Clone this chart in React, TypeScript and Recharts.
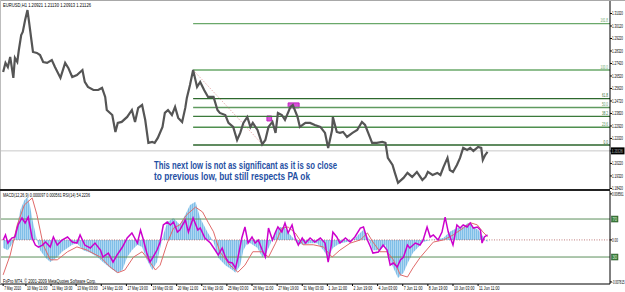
import React from 'react'
import { ComposedChart, Line, Area, XAxis, YAxis, ReferenceLine, ReferenceArea } from 'recharts'

// EURUSD H1, 7 May - 11 Jun 2010. x = bar number counted from the first bar on screen
const pricePoints: [number, number][] = [
  [0, 1.2681], [3, 1.2746], [6, 1.2717], [9, 1.2789], [13, 1.2638], [15, 1.2782], [18, 1.2753], [20, 1.2839],
  [23, 1.2947], [25, 1.2969], [28, 1.3055], [31, 1.3127], [33, 1.3041], [36, 1.2911], [38, 1.2825], [43, 1.2818],
  [47, 1.2803], [51, 1.2753], [56, 1.2746], [62, 1.2767], [66, 1.2717], [73, 1.2638], [79, 1.2746], [83, 1.271],
  [88, 1.2645], [94, 1.2659], [101, 1.2695], [104, 1.2609], [108, 1.2573], [115, 1.2551], [121, 1.2551], [126, 1.2566],
  [130, 1.2501], [132, 1.2407], [139, 1.2371], [143, 1.2249], [146, 1.2314], [151, 1.2321], [158, 1.2357], [164, 1.2407],
  [168, 1.2321], [172, 1.2422], [177, 1.2443], [181, 1.2335], [185, 1.217], [190, 1.2177], [193, 1.217], [197, 1.2206],
  [203, 1.2285], [206, 1.2386], [210, 1.2407], [215, 1.2371], [219, 1.2429], [223, 1.235], [228, 1.2321], [232, 1.2422],
  [234, 1.2494], [238, 1.2587], [242, 1.2695], [247, 1.2573], [251, 1.2609], [256, 1.2551], [261, 1.2501], [268, 1.2501],
  [273, 1.2407], [276, 1.2386], [283, 1.2371], [287, 1.2314], [293, 1.2285], [298, 1.2191], [302, 1.2242], [306, 1.2314],
  [311, 1.2357], [315, 1.2285], [318, 1.2314], [324, 1.2263], [330, 1.216], [334, 1.2191], [338, 1.2285], [343, 1.2321],
  [347, 1.2242], [350, 1.2386], [355, 1.2371], [359, 1.2335], [366, 1.2429], [369, 1.2443], [375, 1.2357], [378, 1.2285],
  [385, 1.2314], [391, 1.2314], [397, 1.2299], [404, 1.2285], [410, 1.2242], [414, 1.2134], [419, 1.2263], [420, 1.2357],
  [425, 1.2249], [429, 1.2242], [433, 1.2249], [438, 1.2213], [445, 1.2242], [451, 1.2263], [457, 1.2321], [461, 1.2299],
  [465, 1.2242], [470, 1.217], [476, 1.217], [483, 1.2177], [487, 1.217], [490, 1.2062], [496, 1.2011], [499, 1.1954],
  [503, 1.1882], [510, 1.1918], [515, 1.1954], [521, 1.1925], [527, 1.1961], [534, 1.1903], [538, 1.1925], [541, 1.1961],
  [547, 1.1939], [553, 1.1954], [557, 1.1939], [561, 1.1997], [566, 1.2062], [569, 1.1975], [573, 1.1961], [578, 1.2011],
  [582, 1.2062], [586, 1.2134], [591, 1.2119], [595, 1.2134], [599, 1.2112], [605, 1.2141], [609, 1.2134], [611, 1.2047],
  [614, 1.2083], [617, 1.2105],
]

const macdPoints: [number, number][] = [
  [0, -0.0015], [6, -0.0019], [13, -0.0004], [18, 0.0028], [22, 0.0056], [27, 0.0074], [31, 0.008], [34, 0.0065],
  [38, 0.0033], [43, 0], [47, -0.0019], [54, -0.0033], [60, -0.0041], [69, -0.0032], [75, -0.0022], [82, -0.0015],
  [88, -0.0009], [94, -0.0006], [102, -0.0019], [111, -0.0024], [120, -0.0032], [127, -0.0041], [136, -0.0052], [145, -0.0061],
  [152, -0.0056], [158, -0.0032], [164, -0.0019], [171, -0.0009], [177, -0.0013], [183, -0.0037], [190, -0.0056], [196, -0.0041],
  [200, -0.0015], [204, 0.0009], [209, 0.0033], [217, 0.0041], [225, 0.0028], [232, 0.0047], [238, 0.0065], [245, 0.0071],
  [251, 0.0041], [260, 0.0015], [268, -0.0004], [274, -0.0033], [283, -0.0047], [292, -0.0056], [296, -0.0061], [302, -0.0047],
  [306, -0.0019], [311, -0.0006], [315, -0.0006], [324, -0.0015], [330, -0.0032], [334, -0.0028], [340, -0.0009], [347, 0.0015],
  [353, 0.0024], [359, 0.0022], [366, 0.0009], [375, -0.0006], [382, -0.0009], [391, -0.0006], [400, -0.0006], [408, -0.0019],
  [414, -0.0033], [420, -0.0015], [429, -0.0006], [438, -0.0004], [446, 0], [452, 0.0009], [459, 0.0019], [465, 0.0004],
  [471, -0.0019], [480, -0.0019], [487, -0.0009], [490, -0.0028], [497, -0.0052], [503, -0.0071], [510, -0.0061], [516, -0.0041],
  [522, -0.0024], [529, -0.0013], [535, -0.0004], [544, 0], [553, 0.0001], [561, 0.0004], [569, 0.0015], [578, 0.0022],
  [586, 0.0024], [592, 0.0032], [599, 0.0024], [605, 0.0019], [610, 0.0009], [614, 0], [617, -0.0004],
]

const signalPoints: [number, number][] = [
  [0, -0.0065], [9, -0.0028], [18, 0.0028], [27, 0.0065], [37, 0.0078], [43, 0.0047], [51, -0.0009], [60, -0.0037],
  [69, -0.0037], [82, -0.0022], [94, -0.0013], [107, -0.0019], [124, -0.0032], [136, -0.005], [146, -0.0061], [155, -0.0056],
  [166, -0.0032], [177, -0.0022], [185, -0.0037], [194, -0.0056], [200, -0.0047], [209, -0.0006], [217, 0.0022], [225, 0.0028],
  [234, 0.0047], [245, 0.0061], [254, 0.0052], [261, 0.0033], [268, 0.0015], [276, -0.0022], [289, -0.0047], [299, -0.006],
  [308, -0.0047], [318, -0.0022], [330, -0.0022], [338, -0.0032], [347, -0.0006], [355, 0.0022], [363, 0.0024], [372, 0.0013],
  [382, -0.0009], [395, -0.0009], [408, -0.0013], [419, -0.0032], [429, -0.0019], [442, -0.0006], [455, 0], [464, 0.0013],
  [471, -0.0004], [480, -0.0022], [489, -0.0022], [497, -0.0037], [506, -0.0065], [515, -0.0069], [522, -0.0052], [531, -0.0033],
  [548, -0.0004], [561, 0], [573, 0.0009], [586, 0.0022], [595, 0.0032], [604, 0.0028], [611, 0.0015], [617, 0.0006],
]

const rsiPoints: [number, number][] = [
  [0, 47.9], [3, 53.2], [6, 44.7], [11, 50], [15, 51.1], [19, 63.7], [24, 71.1], [28, 65.8], [32, 72.1], [37, 50],
  [41, 42.6], [45, 40.5], [50, 42.6], [54, 45.8], [60, 40.5], [64, 51.1], [69, 42.6], [75, 47.9], [82, 51.1], [88, 45.8],
  [94, 44.7], [98, 53.2], [104, 42.6], [111, 39.5], [117, 44.7], [124, 37.4], [127, 30], [134, 34.2], [140, 24.7], [145, 32.1],
  [152, 40.5], [158, 50], [164, 55.3], [171, 44.7], [175, 58.4], [178, 50], [183, 34.2], [187, 24.7], [191, 30], [196, 37.4],
  [200, 45.8], [204, 63.7], [209, 66.8], [213, 63.7], [217, 66.8], [222, 56.3], [225, 58.4], [232, 68.9], [236, 56.3], [242, 71.1],
  [248, 58.4], [251, 60.5], [257, 50], [264, 44.7], [270, 37.4], [274, 32.1], [279, 39.5], [283, 30], [287, 24.7], [292, 23.7],
  [296, 18.4], [299, 28.9], [304, 50], [308, 61.6], [312, 44.7], [317, 51.1], [321, 44.7], [325, 47.9], [330, 37.4], [334, 30],
  [338, 60.5], [343, 47.9], [347, 56.3], [350, 61.6], [355, 56.3], [359, 65.8], [363, 55.3], [368, 63.7], [372, 50], [376, 42.6],
  [381, 50], [385, 44.7], [391, 50], [397, 45.8], [404, 50], [410, 44.7], [414, 24.7], [418, 42.6], [420, 56.3], [425, 51.1],
  [429, 44.7], [436, 50], [442, 45.8], [448, 51.1], [455, 60.5], [459, 61.6], [464, 47.9], [468, 40.5], [471, 34.2], [478, 35.3],
  [484, 42.6], [489, 37.4], [493, 21.6], [497, 23.7], [502, 19.5], [506, 26.8], [510, 30], [515, 42.6], [518, 39.5], [525, 44.7],
  [531, 42.6], [535, 47.9], [540, 61.6], [544, 51.1], [548, 53.2], [554, 47.9], [559, 56.3], [563, 72.1], [567, 56.3], [573, 42.6],
  [578, 63.7], [582, 60.5], [586, 63.7], [591, 61.6], [595, 65.8], [599, 60.5], [604, 61.6], [608, 58.4], [610, 44.7], [613, 51.1],
  [617, 53.2],
]

const timeBars = [0, 29, 61, 93, 125, 157, 189, 221, 253, 285, 317, 349, 381, 413, 445, 477, 509, 541, 573, 605]
const timeLabels = [
  '7 May 2010', '10 May 11:00', '11 May 19:00', '13 May 03:00', '14 May 11:00', '17 May 19:00', '19 May 03:00',
  '20 May 11:00', '21 May 19:00', '25 May 03:00', '26 May 11:00', '27 May 19:00', '31 May 03:00', '1 Jun 11:00',
  '2 Jun 19:00', '4 Jun 03:00', '7 Jun 11:00', '8 Jun 19:00', '10 Jun 03:00', '11 Jun 11:00',
]

const priceTicks = [1.1842, 1.1932, 1.2022, 1.2112, 1.2202, 1.2292, 1.2382, 1.2472, 1.2562, 1.2652, 1.2742, 1.2832, 1.2922, 1.3012, 1.3102]
const currentPrice = 1.21126

// fibo retracement drawn from the 21 May high down to the 25 May low
const fibHigh = 1.2695
const fibLow = 1.2155
const fibStartBar = 242
const fibEndBar = 331
const fibLevels = [0, 23.6, 38.2, 50, 61.8, 100, 161.8]
const fibLabels = ['0.0', '23.6', '38.2', '50.0', '61.8', '100.0', '161.8']
const fibColors = ['#2b652b', '#4f8f4f', '#3b7a3b', '#5f9a5f', '#2d692d', '#6aa86a', '#6aa86a']

const zoneBars: [number, number][] = [[336, 342], [363, 377]]
const zonePrices: [number, number][] = [[1.2328, 1.2364], [1.2422, 1.2458]]

const macdTicks = [0.008561, 0, -0.007815]
const macdTickLabels = ['0.008561', '0.00', '-0.007815']
const rsiLevels = [70, 30]

const X_DOMAIN: [number, number] = [-4, 773]
const FONT = '"Liberation Sans", Arial, sans-serif'

// tiny MT4 style text: squeezed horizontally so that its box matches the wanted width
function SText({ x, y, sx, width, children, ...rest }: any) {
  return (
    <text
      transform={`translate(${x},${y}) scale(${sx},1)`}
      x={0}
      y={0}
      fontFamily={FONT}
      textLength={width / sx}
      lengthAdjust="spacingAndGlyphs"
      {...rest}
    >
      {children}
    </text>
  )
}

function PriceTick({ x, y, payload }: any) {
  return (
    <SText x={x} y={y + 1.7} sx={0.6} width={11} fontSize={5} fill="#000">
      {payload.value.toFixed(5)}
    </SText>
  )
}

function MacdTick({ x, y, payload, index }: any) {
  const label = macdTickLabels[index] ?? String(payload.value)
  const w = Math.min(label.length * 1.45, 12.5)
  return (
    <SText x={x} y={y + 1.7} sx={0.55} width={w} fontSize={5} fill="#000">
      {label}
    </SText>
  )
}

function TimeTick({ x, y, payload }: any) {
  const label = timeLabels[timeBars.indexOf(payload.value)] ?? ''
  return (
    <SText x={x + 1} y={y + 4} sx={0.56} width={label.length * 1.7} fontSize={5} fill="#000">
      {label}
    </SText>
  )
}

function CurrentPriceLabel({ viewBox }: any) {
  const x = viewBox.x + viewBox.width
  return (
    <g>
      <rect x={x + 1} y={viewBox.y - 3.5} width={13.5} height={7} fill="#000" />
      <SText x={x + 1.8} y={viewBox.y + 1.8} sx={0.6} width={11} fontSize={5} fill="#fff">
        {currentPrice.toFixed(5)}
      </SText>
    </g>
  )
}

function FibLabel({ viewBox, text, color }: any) {
  const w = text.length * 1.5
  return (
    <SText x={viewBox.x + viewBox.width - 2 - w} y={viewBox.y - 1.3} sx={0.6} width={w} fontSize={4.5} fill={color}>
      {text}
    </SText>
  )
}

function LevelBox({ viewBox, text }: any) {
  const x = viewBox.x + viewBox.width
  return (
    <g>
      <rect x={x + 1.5} y={viewBox.y - 3} width={6.5} height={6} fill="#3f7f3f" stroke="#245224" strokeWidth={0.5} />
      <SText x={x + 2.5} y={viewBox.y + 1.7} sx={0.8} width={4.5} fontSize={4.5} fill="#d8f0d8">
        {text}
      </SText>
    </g>
  )
}

export default function App() {
  const priceData = pricePoints.map(([bar, price]) => ({ bar, price }))
  const macdData = macdPoints.map(([bar, v]) => ({ bar, v }))
  const signalData = signalPoints.map(([bar, v]) => ({ bar, v }))
  const rsiData = rsiPoints.map(([bar, v]) => ({ bar, v }))

  return (
    <div style={{ position: 'relative', width: 625, height: 292, background: '#fff', overflow: 'hidden', fontFamily: FONT }}>
      <style>{'body{margin:0}'}</style>

      {/* price window */}
      <div style={{ position: 'absolute', left: 0, top: 0 }}>
        <ComposedChart width={625} height={190} margin={{ top: 1, right: 0, bottom: 1, left: 0 }}>
          <XAxis type="number" dataKey="bar" domain={X_DOMAIN} hide allowDataOverflow />
          <YAxis
            orientation="right"
            width={15}
            domain={[1.1838, 1.3192]}
            ticks={priceTicks}
            interval={0}
            tick={<PriceTick />}
            tickSize={2}
            tickMargin={0}
            axisLine={{ stroke: '#000' }}
            tickLine={{ stroke: '#000' }}
            allowDataOverflow
          />
          <ReferenceLine y={currentPrice} stroke="#c8c8c8" strokeWidth={1} label={<CurrentPriceLabel />} />
          {fibLevels.map((lvl, i) => {
            const p = fibLow + ((fibHigh - fibLow) * lvl) / 100
            return (
              <ReferenceLine
                key={lvl}
                segment={[{ x: fibStartBar, y: p }, { x: X_DOMAIN[1], y: p }]}
                stroke={fibColors[i]}
                strokeWidth={1.4}
                label={<FibLabel text={fibLabels[i]} color={fibColors[i]} />}
              />
            )
          })}
          <ReferenceLine
            segment={[{ x: fibStartBar, y: fibHigh }, { x: fibEndBar, y: fibLow }]}
            stroke="#d98080"
            strokeWidth={0.8}
            strokeDasharray="1 1.5"
          />
          <Line data={priceData} dataKey="price" type="linear" stroke="#555" strokeWidth={2.2} dot={false} activeDot={false} isAnimationActive={false} />
          {zoneBars.map(([b1, b2], i) => (
            <ReferenceArea key={b1} x1={b1} x2={b2} y1={zonePrices[i][0]} y2={zonePrices[i][1]} fill="#d13fd1" fillOpacity={0.9} stroke="#c020c0" />
          ))}
        </ComposedChart>
      </div>

      {/* MACD + RSI window */}
      <div style={{ position: 'absolute', left: 0, top: 190 }}>
        <ComposedChart width={625} height={102} margin={{ top: 1, right: 0, bottom: 0, left: 0 }}>
          <defs>
            <pattern id="macdStripes" width="2" height="4" patternUnits="userSpaceOnUse">
              <rect width="1" height="4" fill="#7fbfe8" />
              <rect x="1" width="1" height="4" fill="#aed6f1" />
            </pattern>
          </defs>
          <XAxis
            type="number"
            dataKey="bar"
            domain={X_DOMAIN}
            ticks={timeBars}
            interval={0}
            tick={<TimeTick />}
            height={8}
            tickSize={2}
            tickMargin={0}
            axisLine={{ stroke: '#000' }}
            tickLine={{ stroke: '#000' }}
            allowDataOverflow
          />
          <YAxis
            yAxisId="macd"
            orientation="right"
            width={15}
            domain={[-0.0082, 0.0091]}
            ticks={macdTicks}
            interval={0}
            tick={<MacdTick />}
            tickSize={2}
            tickMargin={0}
            axisLine={{ stroke: '#000' }}
            tickLine={{ stroke: '#000' }}
            allowDataOverflow
          />
          <YAxis yAxisId="rsi" hide domain={[1.6, 99.5]} allowDataOverflow />
          <Area
            yAxisId="macd"
            data={macdData}
            dataKey="v"
            type="linear"
            baseValue={0}
            fill="url(#macdStripes)"
            fillOpacity={1}
            stroke="none"
            dot={false}
            activeDot={false}
            isAnimationActive={false}
          />
          {rsiLevels.map((lvl) => (
            <ReferenceLine key={lvl} yAxisId="rsi" y={lvl} stroke="#5b8f5b" strokeWidth={1} label={<LevelBox text={String(lvl)} />} />
          ))}
          <ReferenceLine yAxisId="macd" y={0} stroke="#b05a5a" strokeWidth={0.8} strokeDasharray="1 1.5" />
          <Line yAxisId="macd" data={signalData} dataKey="v" type="linear" stroke="#e06a6a" strokeWidth={1} dot={false} activeDot={false} isAnimationActive={false} />
          <Line yAxisId="rsi" data={rsiData} dataKey="v" type="linear" stroke="#cc00cc" strokeWidth={1.5} dot={false} activeDot={false} isAnimationActive={false} />
        </ComposedChart>
      </div>

      {/* window frame and chart texts */}
      <svg width={625} height={292} style={{ position: 'absolute', left: 0, top: 0, pointerEvents: 'none' }}>
        <line x1={0} y1={0.5} x2={625} y2={0.5} stroke="#a8a8a8" />
        <line x1={0.5} y1={0} x2={0.5} y2={284} stroke="#bdbdbd" />
        <line x1={0} y1={190} x2={610} y2={190} stroke="#222" strokeWidth={2} />
        <SText x={3} y={6.5} sx={0.6} width={88} fontSize={5} fill="#000">
          EURUSD,H1  1.20921 1.21130 1.20913 1.21126
        </SText>
        <SText x={3} y={197} sx={0.6} width={87} fontSize={5} fill="#000">
          MACD(12,26,9) 0.000097 0.000561 RSI(14) 54.2236
        </SText>
        <SText x={3} y={282.5} sx={0.6} width={93} fontSize={5} fill="#000">
          FxPro MT4, © 2001-2009 MetaQuotes Software Corp.
        </SText>
        <SText x={154} y={169} sx={0.72} width={183} fontSize={10} fontWeight="bold" fill="#1f50a3">
          This next low is not as significant as it is so close
        </SText>
        <SText x={154} y={180} sx={0.72} width={156} fontSize={10} fontWeight="bold" fill="#1f50a3">
          to previous low, but still respects PA ok
        </SText>
      </svg>
    </div>
  )
}
